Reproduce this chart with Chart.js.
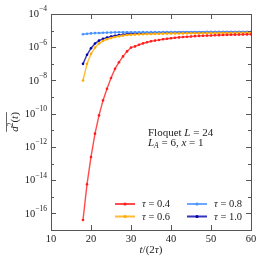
<!DOCTYPE html>
<html>
<head>
<meta charset="utf-8">
<script src="https://cdn.jsdelivr.net/npm/chart.js@4.4.1/dist/chart.umd.min.js"></script>
<style>
html, body { margin: 0; padding: 0; background: #fff; }
</style>
</head>
<body>
<canvas id="myChart" width="266" height="266"></canvas>
<script>
// t/(2tau) sample points, one per period
const steps = [18, 19, 20, 21, 22, 23, 24, 25, 26, 27, 28, 29, 30, 31, 32, 33, 34, 35, 36, 37, 38,
    39, 40, 41, 42, 43, 44, 45, 46, 47, 48, 49, 50, 51, 52, 53, 54, 55, 56, 57, 58, 59, 60]

const tauValues = ['0.4', '0.6', '0.8', '1.0']

const tau04 = [4.0e-17, 5.6e-15, 2.5e-13, 6.3e-12, 7.9e-11, 6.3e-10, 3.2e-9, 1.4e-8, 5.0e-8, 1.26e-7,
    2.8e-7, 5.6e-7, 9.5e-7, 1.12e-6, 1.41e-6, 1.7e-6, 2.0e-6, 2.3e-6, 2.5e-6, 2.75e-6, 3.0e-6,
    3.24e-6, 3.45e-6, 3.7e-6, 3.9e-6, 4.1e-6, 4.25e-6, 4.45e-6, 4.65e-6, 4.8e-6, 4.9e-6, 5.0e-6,
    5.1e-6, 5.25e-6, 5.35e-6, 5.5e-6, 5.55e-6, 5.6e-6, 5.7e-6, 5.75e-6, 5.8e-6, 5.9e-6, 5.95e-6]
const tau06 = [1.0e-8, 1.0e-7, 4.0e-7, 9.5e-7, 1.66e-6, 2.4e-6, 3.0e-6, 3.55e-6, 4.1e-6, 4.6e-6,
    5.0e-6, 5.4e-6, 5.6e-6, 5.8e-6, 5.95e-6, 6.1e-6, 6.2e-6, 6.3e-6, 6.4e-6, 6.5e-6, 6.55e-6,
    6.6e-6, 6.65e-6, 6.7e-6, 6.75e-6, 6.8e-6, 6.85e-6, 6.9e-6, 6.95e-6, 7.0e-6, 7.0e-6, 7.05e-6,
    7.1e-6, 7.1e-6, 7.15e-6, 7.2e-6, 7.2e-6, 7.25e-6, 7.3e-6, 7.3e-6, 7.35e-6, 7.4e-6, 7.4e-6]
const tau08 = [6.0e-6, 6.5e-6, 6.8e-6, 7.1e-6, 7.25e-6, 7.4e-6, 7.6e-6, 7.75e-6, 7.85e-6, 7.9e-6,
    7.95e-6, 8.0e-6, 8.0e-6, 8.05e-6, 8.0e-6, 8.1e-6, 8.05e-6, 8.1e-6, 8.1e-6, 8.05e-6, 8.1e-6,
    8.15e-6, 8.1e-6, 8.1e-6, 8.15e-6, 8.1e-6, 8.15e-6, 8.2e-6, 8.15e-6, 8.15e-6, 8.2e-6, 8.15e-6,
    8.2e-6, 8.2e-6, 8.2e-6, 8.25e-6, 8.2e-6, 8.25e-6, 8.2e-6, 8.25e-6, 8.25e-6, 8.3e-6, 8.25e-6]
const tau10 = [1.0e-7, 3.5e-7, 8.7e-7, 1.66e-6, 2.5e-6, 3.2e-6, 3.8e-6, 4.4e-6, 4.9e-6, 5.4e-6,
    5.75e-6, 6.2e-6, 6.5e-6, 6.8e-6, 6.9e-6, 7.1e-6, 7.25e-6, 7.4e-6, 7.5e-6, 7.6e-6, 7.7e-6,
    7.75e-6, 7.8e-6, 7.85e-6, 7.9e-6, 7.9e-6, 7.95e-6, 8.0e-6, 8.0e-6, 8.05e-6, 8.05e-6, 8.1e-6,
    8.1e-6, 8.1e-6, 8.15e-6, 8.15e-6, 8.2e-6, 8.2e-6, 8.2e-6, 8.25e-6, 8.25e-6, 8.25e-6, 8.3e-6]

const xTicks = [10, 20, 30, 40, 50, 60]
const yMajorExps = [-16, -14, -12, -10, -8, -6, -4]
const yMinorExps = [-17, -15, -13, -11, -9, -7, -5]

const colors = ['rgb(255, 30, 30)', 'rgb(255, 170, 0)', 'rgb(70, 145, 255)', 'rgb(0, 0, 170)']
const fadedColors = ['rgba(255, 30, 30, 0.8)', 'rgba(255, 170, 0, 0.8)', 'rgba(70, 145, 255, 0.8)', 'rgba(0, 0, 170, 0.8)']
const series = [tau04, tau06, tau08, tau10]

const FONT = '"Liberation Serif", "DejaVu Serif", serif'
const TEXT = '#222'

function drawRich(ctx, parts, x, y, size) {
    for (const p of parts) {
        let s = p.s || size
        ctx.font = (p.i ? 'italic ' : '') + s + 'px ' + FONT
        ctx.fillText(p.t, x, y + (p.dy || 0))
        x += ctx.measureText(p.t).width
    }
    return x
}

function richWidth(ctx, parts, size) {
    let w = 0
    for (const p of parts) {
        ctx.font = (p.i ? 'italic ' : '') + (p.s || size) + 'px ' + FONT
        w += ctx.measureText(p.t).width
    }
    return w
}

const decorations = {
    id: 'decorations',
    afterDatasetsDraw(chart) {
        const ctx = chart.ctx
        const a = chart.chartArea
        const x = chart.scales.x
        const y = chart.scales.y
        ctx.save()

        // frame + inward ticks
        ctx.strokeStyle = '#555'
        ctx.lineWidth = 1
        ctx.strokeRect(Math.round(a.left) + 0.5, Math.round(a.top) + 0.5, Math.round(a.right - a.left), Math.round(a.bottom - a.top))
        ctx.beginPath()
        for (const v of xTicks) {
            let px = Math.round(x.getPixelForValue(v)) + 0.5
            ctx.moveTo(px, a.bottom); ctx.lineTo(px, a.bottom - 5)
            ctx.moveTo(px, a.top); ctx.lineTo(px, a.top + 5)
        }
        for (const e of yMajorExps.concat(yMinorExps)) {
            let len = yMajorExps.includes(e) ? 5 : 3
            let py = Math.round(y.getPixelForValue(Math.pow(10, e))) + 0.5
            ctx.moveTo(a.left, py); ctx.lineTo(a.left + len, py)
            ctx.moveTo(a.right, py); ctx.lineTo(a.right - len, py)
        }
        ctx.stroke()

        // y tick labels 10^n
        ctx.fillStyle = TEXT
        ctx.textBaseline = 'middle'
        ctx.textAlign = 'left'
        for (const e of yMajorExps) {
            let py = y.getPixelForValue(Math.pow(10, e))
            let parts = [{ t: '10' }, { t: '\u2212' + Math.abs(e), s: 7.5, dy: -5 }]
            let w = richWidth(ctx, parts, 10.5)
            drawRich(ctx, parts, a.left - 4 - w, py + 0.5, 10.5)
        }

        // y title: overline d^2(t)
        ctx.save()
        ctx.translate(15, (a.top + a.bottom) / 2)
        ctx.rotate(-Math.PI / 2)
        let yParts = [{ t: 'd', i: true }, { t: '2', s: 7.5, dy: -4 }, { t: '(' }, { t: 't', i: true }, { t: ')' }]
        let yw = richWidth(ctx, yParts, 11)
        drawRich(ctx, yParts, -yw / 2, 0, 11)
        ctx.beginPath()
        ctx.strokeStyle = TEXT
        ctx.lineWidth = 0.7
        ctx.moveTo(-yw / 2, -8.5); ctx.lineTo(yw / 2, -8.5)
        ctx.stroke()
        ctx.restore()

        // x title t/(2tau)
        let xParts = [{ t: 't', i: true }, { t: '/(2' }, { t: '\u03c4', i: true }, { t: ')' }]
        let xw = richWidth(ctx, xParts, 11)
        drawRich(ctx, xParts, (a.left + a.right) / 2 - xw / 2, 250.5, 11)

        // annotation
        drawRich(ctx, [{ t: 'Floquet ' }, { t: 'L', i: true }, { t: ' = 24' }], 148, 133, 11)
        drawRich(ctx, [{ t: 'L', i: true }, { t: 'A', i: true, s: 7.5, dy: 3 }, { t: ' = 6, ' }, { t: 'x', i: true }, { t: ' = 1' }], 148, 143, 11)

        // legend, two columns
        const spots = [[115, 204], [115, 216.5], [187, 204], [187, 216.5]]
        chart.data.datasets.forEach((ds, i) => {
            let [lx, ly] = spots[i]
            ctx.beginPath()
            ctx.strokeStyle = fadedColors[i]
            ctx.lineWidth = 2
            ctx.moveTo(lx, ly); ctx.lineTo(lx + 20, ly)
            ctx.stroke()
            ctx.beginPath()
            ctx.fillStyle = colors[i]
            ctx.arc(lx + 10, ly, 1.6, 0, Math.PI * 2)
            ctx.fill()
            ctx.fillStyle = TEXT
            drawRich(ctx, [{ t: '\u03c4', i: true }, { t: ' = ' + tauValues[i] }], lx + 27, ly + 0.5, 10.5)
        })
        ctx.restore()
    }
}

const datasets = series.map((vals, i) => ({
    label: '\u03c4 = ' + tauValues[i],
    data: steps.map((s, j) => ({ x: s, y: vals[j] })),
    borderColor: fadedColors[i],
    backgroundColor: colors[i],
    pointBackgroundColor: colors[i],
    pointBorderColor: colors[i],
    pointRadius: 1.3,
    pointBorderWidth: 0,
    borderWidth: 1.4,
    tension: 0,
    fill: false,
}))

const ctx = document.getElementById('myChart').getContext('2d')
new Chart(ctx, {
    type: 'line',
    data: { datasets: datasets },
    options: {
        responsive: false,
        animation: false,
        devicePixelRatio: 1,
        layout: { padding: { top: 14, right: 15, left: 0, bottom: 0 } },
        plugins: { legend: { display: false }, tooltip: { enabled: false } },
        scales: {
            x: {
                type: 'linear',
                min: 10,
                max: 60,
                afterBuildTicks: s => { s.ticks = xTicks.map(v => ({ value: v })) },
                afterFit: s => { s.height = 36 },
                grid: { display: false, drawTicks: false },
                border: { display: false },
                ticks: { color: TEXT, padding: 3, font: { family: FONT, size: 10.5 } },
            },
            y: {
                type: 'logarithmic',
                min: 1e-17,
                max: 1e-4,
                afterFit: s => { s.width = 51 },
                grid: { display: false, drawTicks: false },
                border: { display: false },
                ticks: { display: false },
            },
        },
    },
    plugins: [decorations],
})
</script>
</body>
</html>
